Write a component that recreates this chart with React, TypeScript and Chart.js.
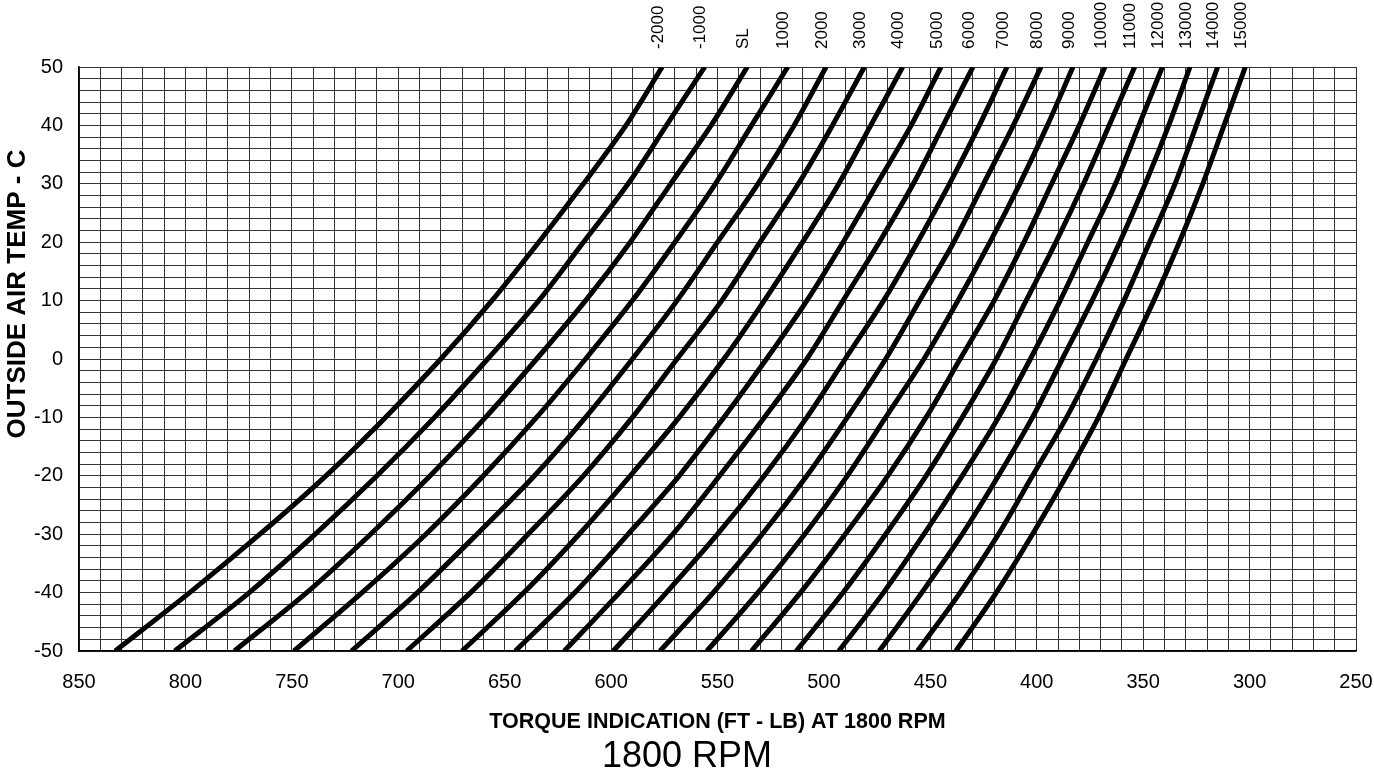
import React, { useEffect, useRef } from 'react';
import { Chart, registerables } from 'chart.js';

Chart.register(...registerables);

const FONT = '"Liberation Sans", Arial, Helvetica, sans-serif';

// Outside air temperature (deg C) at which each curve is sampled
const tempC = [-50, -40, -30, -20, -10, 0, 10, 20, 30, 40, 50];

// Pressure altitude labels (top of chart)
const altitudeLabels = [
  '-2000', '-1000', 'SL', '1000', '2000', '3000', '4000', '5000', '6000',
  '7000', '8000', '9000', '10000', '11000', '12000', '13000', '14000', '15000',
];

// Torque indication (ft-lb) for each pressure altitude, at the temperatures above
const torqueM2000 = [833, 798, 765, 734, 706, 680, 656, 634, 613, 593, 576];
const torqueM1000 = [805, 770, 739, 710, 683, 658, 634, 613, 592, 574, 556];
const torqueSL = [777, 743, 713, 685, 659, 635, 612, 591, 572, 553, 536];
const torque1000 = [749, 717, 687, 660, 635, 612, 590, 570, 551, 534, 517];
const torque2000 = [722, 691, 663, 636, 612, 590, 569, 550, 531, 514, 499];
const torque3000 = [696, 666, 639, 613, 590, 569, 548, 530, 512, 496, 481];
const torque4000 = [670, 641, 615, 591, 568, 547, 528, 510, 493, 478, 463];
const torque5000 = [645, 617, 592, 568, 547, 527, 508, 491, 475, 459, 445];
const torque6000 = [622, 596, 571, 549, 528, 508, 491, 474, 458, 444, 430];
const torque7000 = [599, 574, 550, 528, 508, 490, 472, 456, 441, 427, 414];
const torque8000 = [577, 552, 529, 508, 489, 471, 455, 439, 425, 411, 398];
const torque9000 = [555, 531, 509, 489, 471, 453, 437, 422, 408, 395, 383];
const torque10000 = [534, 511, 490, 470, 452, 436, 420, 406, 393, 380, 368];
const torque11000 = [513, 491, 471, 452, 435, 419, 405, 391, 378, 366, 354];
const torque12000 = [493, 472, 453, 435, 418, 403, 389, 376, 363, 352, 341];
const torque13000 = [474, 454, 435, 418, 402, 388, 374, 361, 349, 338, 328];
const torque14000 = [456, 436, 418, 402, 386, 372, 359, 347, 335, 325, 315];
const torque15000 = [438, 419, 402, 386, 371, 358, 345, 333, 322, 312, 302];

const torqueSeries = [
  torqueM2000, torqueM1000, torqueSL, torque1000, torque2000, torque3000,
  torque4000, torque5000, torque6000, torque7000, torque8000, torque9000,
  torque10000, torque11000, torque12000, torque13000, torque14000, torque15000,
];

// Labelled ticks
const xTickLabels = [850, 800, 750, 700, 650, 600, 550, 500, 450, 400, 350, 300, 250];
const yTickLabels = [-50, -40, -30, -20, -10, 0, 10, 20, 30, 40, 50];

const xAxisTitle = 'TORQUE INDICATION (FT - LB) AT 1800 RPM';
const yAxisTitle = 'OUTSIDE AIR TEMP - C';
const chartTitle = '1800 RPM';

const altitudeLabelPlugin = {
  id: 'altitudeLabels',
  afterDraw(chart: any) {
    const ctx = chart.ctx;
    const xs = chart.scales.x;
    const area = chart.chartArea;
    ctx.save();
    ctx.font = `17px ${FONT}`;
    ctx.fillStyle = '#000';
    ctx.textAlign = 'left';
    ctx.textBaseline = 'middle';
    chart.data.datasets.forEach((ds: any, i: number) => {
      const last = ds.data[ds.data.length - 1];
      const px = xs.getPixelForValue(last.x) - 4;
      ctx.save();
      ctx.translate(px, area.top - 18);
      ctx.rotate(-Math.PI / 2);
      ctx.fillText(altitudeLabels[i], 0, 0);
      ctx.restore();
    });
    // y-axis title (sits a little above the axis middle, as in the original)
    ctx.font = `bold 26px ${FONT}`;
    ctx.textAlign = 'center';
    ctx.save();
    ctx.translate(18, (area.top + area.bottom) / 2 - 65);
    ctx.rotate(-Math.PI / 2);
    ctx.fillText(yAxisTitle, 0, 0);
    ctx.restore();
    ctx.restore();
  },
};

export default function App() {
  const canvasRef = useRef<HTMLCanvasElement | null>(null);

  useEffect(() => {
    const canvas = canvasRef.current;
    if (!canvas) return;

    const datasets = torqueSeries.map((series, i) => ({
      label: altitudeLabels[i],
      data: series.map((v, j) => ({ x: v, y: tempC[j] })),
      showLine: true,
      borderColor: '#000',
      backgroundColor: '#000',
      borderWidth: 5,
      pointRadius: 0,
      tension: 0.3,
      fill: false,
    }));

    const titleBlock = 36 * 0.8;
    const chart = new Chart(canvas, {
      type: 'scatter',
      data: { datasets },
      plugins: [altitudeLabelPlugin],
      options: {
        animation: false,
        responsive: false,
        maintainAspectRatio: false,
        layout: { padding: { left: 0, right: 0, top: 67, bottom: 0 } },
        plugins: {
          legend: { display: false },
          tooltip: { enabled: false },
          title: {
            display: true,
            text: chartTitle,
            position: 'bottom',
            color: '#000',
            font: { family: FONT, size: 36, weight: 'normal', lineHeight: 0.8 },
            padding: { top: 0, bottom: 0 },
          },
        },
        scales: {
          x: {
            type: 'linear',
            min: 250,
            max: 850,
            reverse: true,
            afterFit: (scale: any) => {
              scale.height = 771 - 651 - titleBlock;
              scale.paddingLeft = 0;
              scale.paddingRight = 18;
            },
            ticks: {
              stepSize: 10,
              autoSkip: false,
              maxRotation: 0,
              minRotation: 0,
              padding: 19,
              color: '#000',
              font: { family: FONT, size: 20 },
              callback: (v: any) => (xTickLabels.includes(Number(v)) ? String(v) : ''),
            },
            grid: { color: '#333', lineWidth: 1, drawTicks: false },
            border: { display: true, color: '#000', width: 1.5 },
            title: {
              display: true,
              text: xAxisTitle,
              color: '#000',
              font: { family: FONT, size: 21.5, weight: 'bold', lineHeight: 1.2 },
              padding: { top: 0, bottom: 7 },
            },
          },
          y: {
            type: 'linear',
            min: -50,
            max: 50,
            afterFit: (scale: any) => {
              scale.width = 79;
            },
            ticks: {
              stepSize: 2,
              autoSkip: false,
              padding: 16,
              color: '#000',
              font: { family: FONT, size: 20 },
              callback: (v: any) => (yTickLabels.includes(Number(v)) ? String(v) : ''),
            },
            grid: { color: '#333', lineWidth: 1, drawTicks: false },
            border: { display: true, color: '#000', width: 1.5 },
            title: { display: false },
          },
        },
      },
    });

    return () => {
      chart.destroy();
    };
  }, []);

  return (
    <div style={{ position: 'fixed', left: 0, top: 0, width: 1374, height: 771, background: '#fff' }}>
      <canvas ref={canvasRef} width={1374} height={771} style={{ display: 'block' }} />
    </div>
  );
}
